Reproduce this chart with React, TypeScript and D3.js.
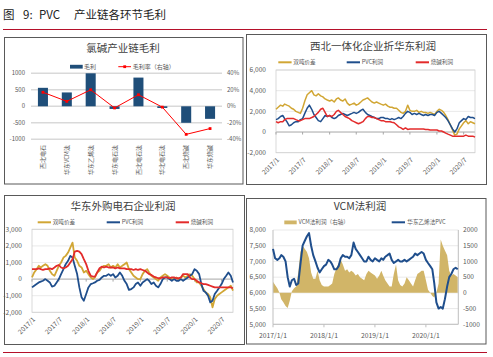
import React from "react";
import * as d3 from "d3";

const FONT = "'Noto Sans CJK SC', 'Noto Sans', sans-serif";
const GOLD = "#D1A634";
const BLUE = "#1F4E8C";
const RED = "#E32B2B";
const BAR = "#1F4E79";
const AREA = "#D1B568";
const TXT = "#595959";

// ---------- Panel 1: 氯碱产业链毛利 ----------
const chainCategories = ["西北电石", "华东VCM法", "华东乙烯法", "华东电石法", "西北电石法", "华北电石法", "西北烧碱", "华东烧碱"];
const chainGrossProfit = [560, 420, 1000, -80, 870, -50, -500, -380];
const chainMarginPct = [17, 6, 20, -2, 14, -1, -34, -27];
const chainLeftTicks = [1000, 500, 0, -500, -1000];
const chainRightTicks = [40, 20, 0, -20, -40];

// ---------- Panel 2: 西北一体化企业折华东利润 (semi-monthly from 2017/1) ----------
const nwSpread = [
  2200, 2400, 2600, 2500, 2700, 2600, 2500, 2300, 2200, 2000, 1900, 1800, 2300, 3000, 3600, 3800, 4000, 3600, 3500, 3700, 3500, 3400, 3200, 3100,
  3000, 3100, 2900, 3200, 3300, 3100, 3000, 3200, 2800, 2600, 2700, 2800, 2600, 2700, 2900, 3100, 3200, 3300, 3100, 2900, 2800, 2900, 2800, 2700,
  2600, 2700, 2500, 2400, 2400, 2300, 2300, 2100, 1900, 1800, 2000, 2600, 2100, 2000, 2000, 2100, 1900, 2000, 1900, 1900, 1800, 1900, 1800, 1700,
  2000, 2200, 2100, 1900, 1600, 1200, 700, 200, -300, -200, 300, 600, 900, 1100, 800, 1000, 900, 800,
];
const nwPVC = [
  1200, 1300, 1500, 1600, 1300, 1000, 600, 700, 900, 1000, 1000, 1200, 1300, 1800, 2300, 2600, 2200, 1700, 1400, 1100, 1000, 1300, 1600, 1500,
  1600, 1400, 1300, 1400, 1600, 1700, 1800, 1700, 1600, 1700, 1800, 1900, 1800, 1900, 2100, 2200, 1900, 1700, 1600, 1500, 1400, 1300, 1300, 1400,
  1400, 1300, 1300, 1200, 1300, 1200, 1300, 1400, 1300, 1500, 1800, 2000, 1900, 1700, 1800, 1700, 1800, 1700, 1600, 1700, 1600, 1700, 1700, 1600,
  1900, 2000, 1800, 1600, 1400, 1100, 700, 300, 0, 300, 900, 1100, 1300, 1200, 1500, 1400, 1400, 1300,
];
const nwCaustic = [
  1000, 900, 1000, 1000, 1200, 1300, 1300, 1300, 1300, 1200, 1100, 1100, 1200, 1300, 1300, 1300, 1400, 1500, 1700, 1900, 2200, 2300, 1900, 1500,
  1600, 1500, 1700, 2000, 2100, 1900, 1700, 1500, 1400, 1300, 1100, 1000, 900, 800, 900, 1000, 1300, 1500, 1500, 1400, 1400, 1300, 1200, 1100,
  1100, 1000, 1000, 1000, 950, 900, 700, 500, 400, 250, 400, 250, 300, 300, 300, 300, 300, 300, 300, 250, 250, 200, 200, 200,
  200, 100, 100, 0, -100, -200, -300, -400, -400, -400, -400, -400, -400, -300, -400, -400, -400, -500,
];

// ---------- Panel 3: 华东外购电石企业利润 (semi-monthly from 2017/1) ----------
const ecSpread = [
  100, 400, 600, 800, 700, 800, 900, 800, 500, 300, 200, 500, 800, 1000, 1300, 1400, 1600, 1900, 2200, 1300, 1100, 800, 700, 400,
  500, 300, 100, 0, 100, 400, 500, 700, 800, 800, 900, 700, 800, 700, 900, 700, 800, 900, 1000, 600, 400, 200, 100, 0,
  0, 300, 500, 600, 400, 200, 100, 0, -100, 100, 200, 300, 200, 100, 0, 0, 100, 0, 100, 200, 100, 200, 300, 200,
  0, -200, -200, -400, -600, -800, -900, -1100, -1700, -1200, -1000, -900, -800, -700, -600, -500, -400, -700,
];
const ecPVC = [
  -500, -400, -300, -200, -150, -100, 0, -100, -200, -450, -400, -200, 0, 300, 600, 900, 1100, 1400, 1300, 800, 300, -500, -1100, -1300,
  -900, -500, -300, -250, -200, -100, -50, 100, 200, 200, 300, 200, 300, 100, 200, 400, 200, -100, -300, -650, -600, -500, -300, -200,
  -400, -200, -100, 0, -100, -300, -200, -400, -500, -300, 0, 100, 100, 0, -100, 0, -100, -100, 0, -100, 0, 100, 200, 300,
  600, 500, 300, -300, -700, -800, -1000, -1400, -1300, -900, -700, -500, -300, 0, 200, 400, 200, -200,
];
const ecCaustic = [
  600, 600, 600, 650, 600, 550, 600, 600, 650, 600, 700, 800, 850, 700, 650, 700, 800, 1000, 1200, 1650, 1700, 1650, 1500, 1200,
  900, 500, 200, 150, 150, 400, 650, 750, 700, 750, 700, 700, 700, 650, 700, 650, 650, 650, 600, 600, 600, 550, 600, 550,
  600, 550, 500, 400, 300, 250, 150, 100, 50, 50, 100, 100, 100, 50, 100, 100, 50, 50, 100, 300, 300, 300, 100, 0,
  0, -100, -200, -250, -300, -300, -350, -400, -450, -500, -500, -500, -500, -500, -500, -500, -500, -550,
];

// ---------- Panel 4: VCM法利润 (semi-monthly from 2017/1) ----------
const vcmProfit = [
  350, 250, 150, 0, -200, -300, -420, -480, -250, 50, 150, 200, 650, 1300, 1500, 1400, 1300, 1100, 650, 450, 450, 700, 400, 250,
  200, 200, 200, 250, 300, 600, 800, 950, 1050, 900, 700, 750, 650, 700, 650, 550, 600, 500, 450, 400, 600, 700, 650, 600,
  550, 450, 550, 700, 550, 400, 300, 200, 200, 600, 900, 400, 250, 200, 300, 500, 400, 300, 200, 400, 600, 650, 700, 700,
  400, 100, 0, -100, -150, 0, 300, 1700, 1500, 1350, 1200, 700, 550, 600, 550, 500,
];
const ethylenePVC = [
  7400, 7100, 7050, 7100, 7200, 7150, 7000, 6500, 6200, 6400, 6450, 6250, 6300, 6900, 7500, 7650, 7800, 7900, 7500, 7200, 7000, 6800, 6650, 6750,
  6850, 6900, 7050, 7000, 6900, 6750, 6750, 6850, 7100, 7200, 7150, 7150, 7100, 7200, 7600, 7400, 7300, 7200, 7100, 7000, 7000, 7150, 7050, 7000,
  7100, 7050, 7000, 7100, 7050, 7150, 7200, 7250, 7050, 6950, 7000, 7050, 7000, 7000, 7050, 7000, 7050, 7100, 7150, 7250, 7200, 7250, 7300, 7250,
  7050, 6950, 6850, 6750, 6300, 5700, 5500, 5550, 5500, 5800, 6200, 6500, 6600, 6750, 6800, 6750,
];

const halfYearTicks = ["2017/1", "2017/7", "2018/1", "2018/7", "2019/1", "2019/7", "2020/1", "2020/7"];
const yearTicks = ["2017/1/1", "2018/1/1", "2019/1/1", "2020/1/1"];
const nwTicks = [6000, 4000, 2000, 0, -2000];
const ecTicks = [3000, 2000, 1000, 0, -1000, -2000];
const vcmLeftTicks = [8000, 7500, 7000, 6500, 6000, 5500, 5000];
const vcmRightTicks = [2000, 1500, 1000, 500, 0, -500, -1000];

const semiMonthlyDates = (n: number) =>
  d3.range(n).map((i) => new Date(2017, Math.floor(i / 2), i % 2 === 0 ? 1 : 16));
const parseTick = (s: string) => {
  const p = s.split("/").map(Number);
  return new Date(p[0], p[1] - 1, p[2] || 1);
};
const fmtComma = (v: number) => d3.format(",")(v).replace("\u2212", "-");

function ChainPanel() {
  const x = d3.scaleBand().domain(chainCategories).range([31, 222]).paddingInner(0.58).paddingOuter(0.29);
  const yL = d3.scaleLinear().domain([-1000, 1000]).range([139.3, 73.3]);
  const yR = d3.scaleLinear().domain([-40, 40]).range([139.3, 73.3]);
  const cx = (c: string) => (x(c) as number) + x.bandwidth() / 2;
  const line = d3.line<number>().x((_, i) => cx(chainCategories[i])).y((d) => yR(d));
  return (
    <g>
      <rect x={4.5} y={37.5} width={238.5} height={146.5} fill="#fff" stroke="#595959" />
      <text x={123} y={51.5} textAnchor="middle" fontSize={10.5} fill="#404040">氯碱产业链毛利</text>
      <rect x={70} y={64.8} width={12.7} height={3.8} fill={BAR} />
      <text x={84} y={66.7} dy="0.35em" fontSize={6} fill={TXT}>毛利</text>
      <line x1={118.3} x2={131} y1={66.7} y2={66.7} stroke="#FF0000" strokeWidth={1} />
      <rect x={123.3} y={65.3} width={2.8} height={2.8} fill="#FF0000" />
      <text x={132.7} y={66.7} dy="0.35em" fontSize={6} fill={TXT}>毛利率（右轴）</text>
      {chainLeftTicks.map((t) => (
        <line key={t} x1={31} x2={222} y1={yL(t)} y2={yL(t)} stroke="#D9D9D9" strokeWidth={1.4} />
      ))}
      {chainLeftTicks.map((t) => (
        <text key={"l" + t} x={25} y={yL(t)} dy="0.35em" textAnchor="end" fontSize={6} fill={TXT}>{t}</text>
      ))}
      {chainRightTicks.map((t) => (
        <text key={"r" + t} x={227} y={yR(t)} dy="0.35em" fontSize={6} fill={TXT}>{t + "%"}</text>
      ))}
      {chainGrossProfit.map((v, i) => (
        <rect key={i} x={x(chainCategories[i])} width={x.bandwidth()} y={yL(Math.max(0, v))}
          height={Math.abs(yL(v) - yL(0))} fill={BAR} />
      ))}
      <path d={line(chainMarginPct) || ""} fill="none" stroke="#FF0000" strokeWidth={1} />
      {chainMarginPct.map((v, i) => (
        <rect key={"m" + i} x={cx(chainCategories[i]) - 1.4} y={yR(v) - 1.4} width={2.8} height={2.8} fill="#FF0000" />
      ))}
      {chainCategories.map((c) => (
        <text key={"c" + c} transform={`translate(${cx(c)},145) rotate(-90)`} dy="0.35em" textAnchor="end" fontSize={6} fill={TXT}>{c}</text>
      ))}
    </g>
  );
}

type Series = { name: string; values: number[]; color: string; lx: number };

function LinePanel(props: {
  box: [number, number, number, number];
  title: string; titleX: number; titleY: number; legendY: number;
  plot: [number, number, number, number]; yDomain: [number, number]; yTicks: number[];
  series: Series[]; strokeW: number;
}) {
  const { box, title, titleX, titleY, legendY, plot, yDomain, yTicks, series, strokeW } = props;
  const [x0, x1, y0, y1] = plot;
  const dates = semiMonthlyDates(series[0].values.length);
  const x = d3.scaleTime().domain([new Date(2017, 0, 1), dates[dates.length - 1]]).range([x0, x1]);
  const y = d3.scaleLinear().domain(yDomain).range([y1, y0]);
  const line = d3.line<number>().x((_, i) => x(dates[i])).y((d) => y(d));
  return (
    <g>
      <rect x={box[0] + 0.5} y={box[1] + 0.5} width={box[2] - box[0]} height={box[3] - box[1]} fill="#fff" stroke="#595959" />
      <text x={titleX} y={titleY} textAnchor="middle" fontSize={10.5} fill="#404040">{title}</text>
      {series.map((s) => (
        <g key={s.name}>
          <line x1={s.lx} x2={s.lx + 13.3} y1={legendY} y2={legendY} stroke={s.color} strokeWidth={2} />
          <text x={s.lx + 15} y={legendY} dy="0.35em" fontSize={5.6} fill={TXT}>{s.name}</text>
        </g>
      ))}
      {yTicks.map((t) => (
        <line key={t} x1={x0} x2={x1} y1={y(t)} y2={y(t)} stroke={t === 0 ? "#A6A6A6" : "#E3E3E3"} strokeWidth={t === 0 ? 1 : 0.8} />
      ))}
      <rect x={x0} y={y0} width={x1 - x0} height={y1 - y0} fill="none" stroke="#D0D0D0" strokeWidth={0.8} />
      {yTicks.map((t) => (
        <text key={"t" + t} x={x0 - 10} y={y(t)} dy="0.35em" textAnchor="end" fontSize={6.6} fill={TXT}>{fmtComma(t)}</text>
      ))}
      {halfYearTicks.map((s) => {
        const tx = x(parseTick(s));
        return (
          <g key={s}>
            <line x1={tx} x2={tx} y1={y(0)} y2={y(0) + 2.5} stroke="#A6A6A6" />
            <text transform={`translate(${tx + 2},${y1 + 6}) rotate(-45)`} dy="0.35em" textAnchor="end" fontSize={6.6} fill={TXT}>{s}</text>
          </g>
        );
      })}
      {series.map((s) => (
        <path key={"p" + s.name} d={line(s.values) || ""} fill="none" stroke={s.color} strokeWidth={strokeW} strokeLinejoin="round" />
      ))}
    </g>
  );
}

function VcmPanel() {
  const [x0, x1, y0, y1] = [273, 458.3, 230, 324.3];
  const dates = semiMonthlyDates(ethylenePVC.length);
  const x = d3.scaleTime().domain([new Date(2017, 0, 1), new Date(2020, 7, 20)]).range([x0, x1]);
  const yL = d3.scaleLinear().domain([5000, 8000]).range([y1, y0]);
  const yR = d3.scaleLinear().domain([-1000, 2000]).range([y1, y0]);
  const area = d3.area<number>().x((_, i) => x(dates[i])).y0(yR(0)).y1((d) => yR(d));
  const line = d3.line<number>().x((_, i) => x(dates[i])).y((d) => yL(d));
  return (
    <g>
      <rect x={246.5} y={198.5} width={239.5} height={145.5} fill="#fff" stroke="#595959" />
      <text x={360} y={210} textAnchor="middle" fontSize={10.5} fill="#404040">VCM法利润</text>
      <rect x={284.3} y={220.5} width={12.4} height={3.8} fill={AREA} />
      <text x={298.5} y={222.3} dy="0.35em" fontSize={5.6} fill={TXT}>VCM法利润（右轴）</text>
      <line x1={391.7} x2={405} y1={222.3} y2={222.3} stroke={BLUE} strokeWidth={2} />
      <text x={407.3} y={222.3} dy="0.35em" fontSize={5.6} fill={TXT}>华东乙烯法PVC</text>
      {vcmLeftTicks.map((t) => (
        <line key={t} x1={x0} x2={x1} y1={yL(t)} y2={yL(t)} stroke="#E3E3E3" strokeWidth={0.8} />
      ))}
      <path d={area(vcmProfit) || ""} fill={AREA} />
      <line x1={x0} x2={x0} y1={y0} y2={y1} stroke="#BFBFBF" />
      <line x1={x1} x2={x1} y1={y0} y2={y1} stroke="#BFBFBF" />
      <line x1={x0} x2={x1} y1={y1} y2={y1} stroke="#BFBFBF" />
      {vcmLeftTicks.map((t) => (
        <text key={"l" + t} x={266} y={yL(t)} dy="0.35em" textAnchor="end" fontSize={6.6} fill={TXT}>{fmtComma(t)}</text>
      ))}
      {vcmRightTicks.map((t) => (
        <text key={"r" + t} x={463} y={yR(t)} dy="0.35em" fontSize={6.6} fill={TXT}>{fmtComma(t).replace(",", "")}</text>
      ))}
      {yearTicks.map((s) => {
        const tx = x(parseTick(s));
        return (
          <g key={s}>
            <line x1={tx} x2={tx} y1={y1} y2={y1 + 3} stroke="#BFBFBF" />
            <text x={tx} y={337.5} textAnchor="middle" fontSize={6.8} fill={TXT}>{s}</text>
          </g>
        );
      })}
      <path d={line(ethylenePVC) || ""} fill="none" stroke={BLUE} strokeWidth={2} strokeLinejoin="round" />
    </g>
  );
}

export default function App() {
  return (
    <svg width={493} height={357} fontFamily={FONT}
      style={{ position: "absolute", left: 0, top: 0, display: "block" }}>
      <rect width={493} height={357} fill="#fff" />
      <text y={18.5} fontSize={11.5} fill="#222">
        <tspan x={3}>图</tspan>
        <tspan x={23}>9:</tspan>
        <tspan x={39}>PVC</tspan>
        <tspan x={74}>产业链各环节毛利</tspan>
      </text>
      <line x1={3} x2={487} y1={29.5} y2={29.5} stroke="#B5102A" strokeWidth={1.2} />
      <ChainPanel />
      <LinePanel
        box={[246, 34, 486, 184]} title="西北一体化企业折华东利润" titleX={373} titleY={50} legendY={62.3}
        plot={[276, 475, 70, 152.7]} yDomain={[-2000, 6000]} yTicks={nwTicks} strokeW={1.5}
        series={[
          { name: "双吨价差", values: nwSpread, color: GOLD, lx: 278.3 },
          { name: "PVC利润", values: nwPVC, color: BLUE, lx: 346.7 },
          { name: "烧碱利润", values: nwCaustic, color: RED, lx: 415.7 },
        ]}
      />
      <LinePanel
        box={[4, 195, 244, 344]} title="华东外购电石企业利润" titleX={123} titleY={209.5} legendY={222.3}
        plot={[32, 233, 229.3, 312.3]} yDomain={[-2000, 3000]} yTicks={ecTicks} strokeW={1.8}
        series={[
          { name: "双吨价差", values: ecSpread, color: GOLD, lx: 37.7 },
          { name: "PVC利润", values: ecPVC, color: BLUE, lx: 106.7 },
          { name: "烧碱利润", values: ecCaustic, color: RED, lx: 175.7 },
        ]}
      />
      <VcmPanel />
      <line x1={3} x2={487} y1={352.5} y2={352.5} stroke="#B5102A" strokeWidth={1.2} />
    </svg>
  );
}
